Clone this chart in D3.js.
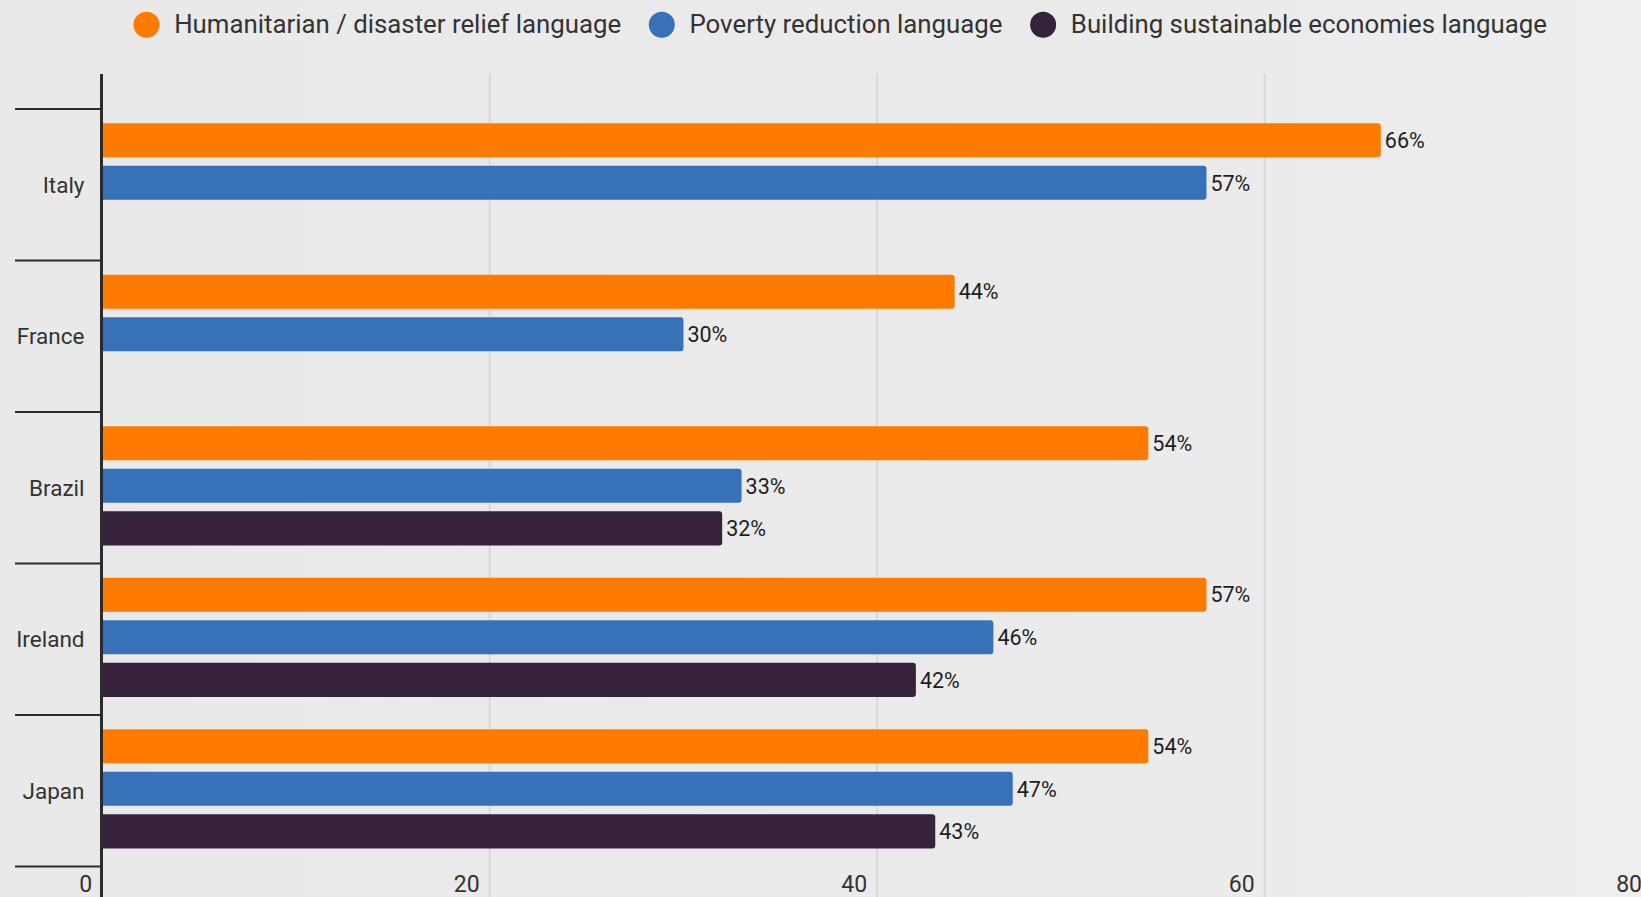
<!DOCTYPE html>
<html>
<head>
<meta charset="utf-8">
<script src="https://cdn.jsdelivr.net/npm/d3@7"></script>
<style>
  html, body { margin: 0; padding: 0; background: #ebebeb; }
  svg { display: block; font-family: Roboto, "Noto Sans", sans-serif; }
</style>
</head>
<body>
<svg id="chart" width="1641" height="897"></svg>
<script>
// Share of aid communications using each type of language, by donor country (%)
const countries = ["Italy", "France", "Brazil", "Ireland", "Japan"];
const seriesNames = [
  "Humanitarian / disaster relief language",
  "Poverty reduction language",
  "Building sustainable economies language"
];
const humanitarian = [66, 44, 54, 57, 54];
const poverty = [57, 30, 33, 46, 47];
const sustainable = [null, null, 32, 42, 43];
const xTicks = [0, 20, 40, 60, 80];

const colors = ["#ff7b00", "#3771b8", "#36233b"];
const seriesValues = [humanitarian, poverty, sustainable];

const W = 1641, H = 897;
const svg = d3.select("#chart");

// background with a faint lighter sheen on the right
const defs = svg.append("defs");
const grad = defs.append("linearGradient").attr("id", "bg").attr("x1", 0).attr("x2", 1);
grad.append("stop").attr("offset", "0").attr("stop-color", "#e9e9e9");
grad.append("stop").attr("offset", "0.75").attr("stop-color", "#ebebeb");
grad.append("stop").attr("offset", "1").attr("stop-color", "#eeeeee");
svg.append("rect").attr("width", W).attr("height", H).attr("fill", "url(#bg)");

const x = d3.scaleLinear().domain([0, 80]).range([102.3, 1652]);
const y0 = d3.scaleBand().domain(countries).range([109, 866.5]).paddingInner(0).paddingOuter(0);
const y1 = d3.scaleBand().domain(d3.range(seriesNames.length))
  .range([0, y0.bandwidth()]).paddingInner(0.2).paddingOuter(0.38).align(0.44);

// vertical gridlines
svg.append("g").selectAll("line")
  .data(xTicks.filter(d => d > 0))
  .join("line")
  .attr("x1", d => x(d)).attr("x2", d => x(d))
  .attr("y1", 74).attr("y2", H)
  .attr("stroke", "#d8d8d8").attr("stroke-width", 2);

// bars with rounded right ends
function barPath(x0, x1, yTop, h, r) {
  r = Math.min(r, (x1 - x0));
  return `M${x0},${yTop}H${x1 - r}Q${x1},${yTop} ${x1},${yTop + r}` +
         `V${yTop + h - r}Q${x1},${yTop + h} ${x1 - r},${yTop + h}H${x0}Z`;
}

const rows = [];
countries.forEach((c, i) => {
  seriesValues.forEach((vals, s) => {
    if (vals[i] != null) rows.push({ country: c, s, value: vals[i] });
  });
});

const barG = svg.append("g");
barG.selectAll("path")
  .data(rows)
  .join("path")
  .attr("d", d => barPath(x(0), x(d.value), y0(d.country) + y1(d.s), y1.bandwidth(), 3))
  .attr("fill", d => colors[d.s]);

barG.selectAll("text")
  .data(rows)
  .join("text")
  .attr("x", d => x(d.value) + 4)
  .attr("y", d => y0(d.country) + y1(d.s) + y1.bandwidth() / 2)
  .attr("dy", "0.36em")
  .attr("font-size", 21.5)
  .attr("fill", "#1e1e1e")
  .text(d => d.value + "%");

// category axis: separators between bands and centred labels
const catG = svg.append("g");
catG.selectAll("line")
  .data(countries.concat(["__end"]))
  .join("line")
  .attr("x1", 15).attr("x2", 101)
  .attr("y1", (d, i) => i < countries.length ? y0(d) : y0.range()[1])
  .attr("y2", (d, i) => i < countries.length ? y0(d) : y0.range()[1])
  .attr("stroke", "#2b2b2b").attr("stroke-width", 2);
catG.selectAll("text")
  .data(countries)
  .join("text")
  .attr("x", 84.5)
  .attr("y", d => y0(d) + y0.bandwidth() / 2)
  .attr("dy", "0.36em")
  .attr("text-anchor", "end")
  .attr("font-size", 22.5)
  .attr("fill", "#333")
  .text(d => d);

// value axis along the bottom
const xAxis = d3.axisBottom(x).tickValues(xTicks).tickSize(0).tickFormat(d3.format("d"));
const axG = svg.append("g").attr("transform", `translate(0,${H})`).call(xAxis);
axG.select(".domain").remove();
axG.selectAll("text")
  .attr("text-anchor", "end")
  .attr("x", -10.5)
  .attr("y", -5.5)
  .attr("dy", 0)
  .attr("font-family", "Roboto, sans-serif")
  .attr("font-size", 23)
  .attr("fill", "#333");

// zero line
svg.append("line")
  .attr("x1", x(0) - 0.8).attr("x2", x(0) - 0.8)
  .attr("y1", 74).attr("y2", H)
  .attr("stroke", "#2b2b2b").attr("stroke-width", 3);

// legend
const legend = svg.append("g");
let lx = 133.5;
seriesNames.forEach((name, i) => {
  legend.append("circle")
    .attr("cx", lx + 13).attr("cy", 24.7).attr("r", 13)
    .attr("fill", colors[i]);
  const t = legend.append("text")
    .attr("x", lx + 40.7).attr("y", 23.5).attr("dy", "0.36em")
    .attr("font-size", 25.8).attr("fill", "#333")
    .text(name);
  lx += 40.7 + t.node().getComputedTextLength() + 27.6;
});
</script>
</body>
</html>
